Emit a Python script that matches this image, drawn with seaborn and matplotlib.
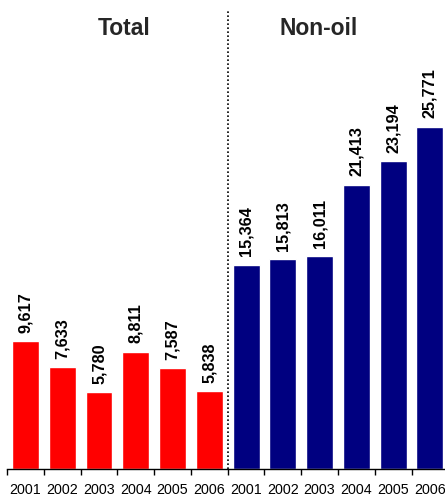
import matplotlib
matplotlib.use("Agg")
import matplotlib.pyplot as plt
import seaborn as sns
import pandas as pd
from matplotlib.ticker import FixedLocator

# Data
years = ["2001", "2002", "2003", "2004", "2005", "2006"]
groups = ["Total", "Non-oil"]
total_values = [9617, 7633, 5780, 8811, 7587, 5838]
nonoil_values = [15364, 15813, 16011, 21413, 23194, 25771]
group_colors = {"Total": "#FF0000", "Non-oil": "#000080"}

df = pd.DataFrame({
    "group": ["Total"] * len(years) + ["Non-oil"] * len(years),
    "year": years + years,
    "value": total_values + nonoil_values,
})
df["slot"] = df["group"] + " " + df["year"]

sns.set_theme(style="white")
plt.rcParams["font.family"] = ["Liberation Sans", "DejaVu Sans"]

fig = plt.figure(figsize=(4.45, 4.97), dpi=100)
ax = fig.add_axes([7.1 / 445, 28.3 / 497, 441.2 / 445, 468.7 / 497])

sns.barplot(data=df, x="slot", y="value", hue="group", palette=group_colors,
            dodge=False, width=0.73, legend=False, saturation=1, ax=ax)

for cont in ax.containers:
    ax.bar_label(cont, labels=[f"{v:,.0f}" for v in cont.datavalues],
                 rotation=90, padding=6, fontsize=11.7, fontweight="bold",
                 color="black")

ax.set_xlim(-0.5, len(df) - 0.5)
ax.set_ylim(0, 35320)
ax.set_xlabel("")
ax.set_ylabel("")
ax.set_yticks([])
ax.set_xticks(range(len(df)))
ax.set_xticklabels(df["year"], fontsize=10.3, color="black")
ax.xaxis.set_minor_locator(FixedLocator([i - 0.5 for i in range(len(df) + 1)]))
ax.tick_params(axis="x", which="major", length=0, pad=10)
ax.tick_params(axis="x", which="minor", length=4, width=1, color="black",
               bottom=True)

for side in ["top", "left", "right"]:
    ax.spines[side].set_visible(False)
ax.spines["bottom"].set_color("black")
ax.spines["bottom"].set_linewidth(1)

# separator between the two groups
ax.axvline(5.5, ymin=0, ymax=(468.7 - 10) / 468.7, color="black",
           linewidth=1.2, linestyle=(0, (1, 1.4)))

fig.text(124 / 445, 1 - 28.5 / 497, "Total", ha="center", va="center",
         fontsize=16.5, fontweight="bold")
fig.text(318.6 / 445, 1 - 28.5 / 497, "Non-oil", ha="center", va="center",
         fontsize=16.5, fontweight="bold")

fig.savefig("out.png", dpi=100)
